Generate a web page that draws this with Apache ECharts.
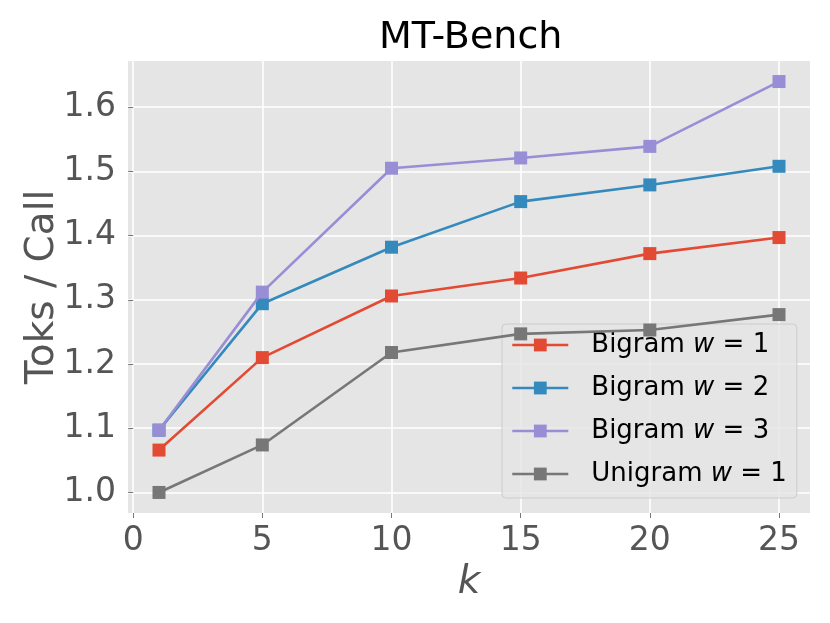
<!DOCTYPE html>
<html>
<head>
<meta charset="utf-8">
<script src="https://cdn.jsdelivr.net/npm/echarts@6/dist/echarts.min.js"></script>
<style>html,body{margin:0;padding:0;background:#fff}#c{width:830px;height:623px}</style>
</head>
<body>
<div id="c"></div>
<script>
const kValues = [1, 5, 10, 15, 20, 25];
const bigramW1 = [1.066, 1.210, 1.306, 1.334, 1.372, 1.397];
const bigramW2 = [1.097, 1.294, 1.382, 1.453, 1.479, 1.508];
const bigramW3 = [1.097, 1.312, 1.505, 1.521, 1.539, 1.640];
const unigramW1 = [1.000, 1.074, 1.218, 1.247, 1.253, 1.277];
const xTicks = [0, 5, 10, 15, 20, 25];
const yTicks = [1.0, 1.1, 1.2, 1.3, 1.4, 1.5, 1.6];
const seriesPrefix = ['Bigram', 'Bigram', 'Bigram', 'Unigram'];
const seriesW = [1, 2, 3, 1];
const seriesValues = [bigramW1, bigramW2, bigramW3, unigramW1];
const colors = ['#E24A33', '#348ABD', '#988ED5', '#777777'];

const FONT = 'DejaVu Sans';
const chart = echarts.init(document.getElementById('c'), null, {renderer: 'canvas'});
const names = seriesPrefix.map((p, i) => p + ' w = ' + seriesW[i]);

const option = {
  animation: false,
  backgroundColor: '#ffffff',
  title: {
    text: 'MT-Bench',
    left: 379,
    top: 19,
    padding: 0,
    textStyle: {fontFamily: FONT, fontSize: 38, fontWeight: 'normal', color: '#000000'}
  },
  grid: {left: 128, right: 20, top: 61, bottom: 110, show: true, backgroundColor: '#E5E5E5', borderWidth: 0},
  xAxis: {
    type: 'value',
    min: -0.2, max: 26.2,
    name: 'k',
    nameLocation: 'middle',
    nameGap: 50,
    nameMoveOverlap: false,
    nameTextStyle: {fontFamily: FONT, fontSize: 39, fontStyle: 'italic', color: '#555555'},
    axisLine: {show: false},
    axisTick: {show: true, customValues: xTicks, length: 5, lineStyle: {color: '#555555', width: 0.8}},
    axisLabel: {customValues: xTicks, margin: 12, fontFamily: FONT, fontSize: 33, color: '#555555'},
    splitLine: {show: true, lineStyle: {color: '#ffffff', width: 1.6}}
  },
  yAxis: {
    type: 'value',
    min: 0.968, max: 1.672,
    name: 'Toks / Call',
    nameLocation: 'middle',
    nameGap: 66,
    nameMoveOverlap: false,
    nameTextStyle: {fontFamily: FONT, fontSize: 39, color: '#555555'},
    axisLine: {show: false},
    axisTick: {show: true, customValues: yTicks, length: 5, lineStyle: {color: '#555555', width: 0.8}},
    axisLabel: {customValues: yTicks, margin: 12, fontFamily: FONT, fontSize: 33, color: '#555555',
      formatter: v => Number(v).toFixed(1)},
    splitLine: {show: true, lineStyle: {color: '#ffffff', width: 1.6}}
  },
  legend: {
    orient: 'vertical',
    left: 502, top: 324,
    data: names,
    itemWidth: 56, itemHeight: 16, itemGap: 17,
    padding: [8, 10, 11, 9],
    backgroundColor: 'rgba(229,229,229,0.8)',
    borderColor: '#cccccc', borderWidth: 1, borderRadius: 4,
    lineStyle: {width: 2.6},
    textStyle: {fontFamily: FONT, fontSize: 26, color: '#000000', padding: [0, 0, 0, 18],
      rich: {
        a: {fontFamily: FONT, fontSize: 26, color: '#000000', lineHeight: 30},
        i: {fontFamily: FONT, fontSize: 26, fontStyle: 'italic', color: '#000000', lineHeight: 30}
      }},
    formatter: function (name) {
      const i = names.indexOf(name);
      return '{a|' + seriesPrefix[i] + ' }{i|w}{a| = ' + seriesW[i] + '}';
    }
  },
  series: seriesValues.map((vals, i) => ({
    name: names[i],
    type: 'line',
    data: kValues.map((k, j) => [k, vals[j]]),
    symbol: 'rect',
    symbolSize: 13,
    color: colors[i],
    itemStyle: {color: colors[i]},
    lineStyle: {color: colors[i], width: 2.6},
    z: 2 + i
  }))
};
chart.setOption(option);
</script>
</body>
</html>
